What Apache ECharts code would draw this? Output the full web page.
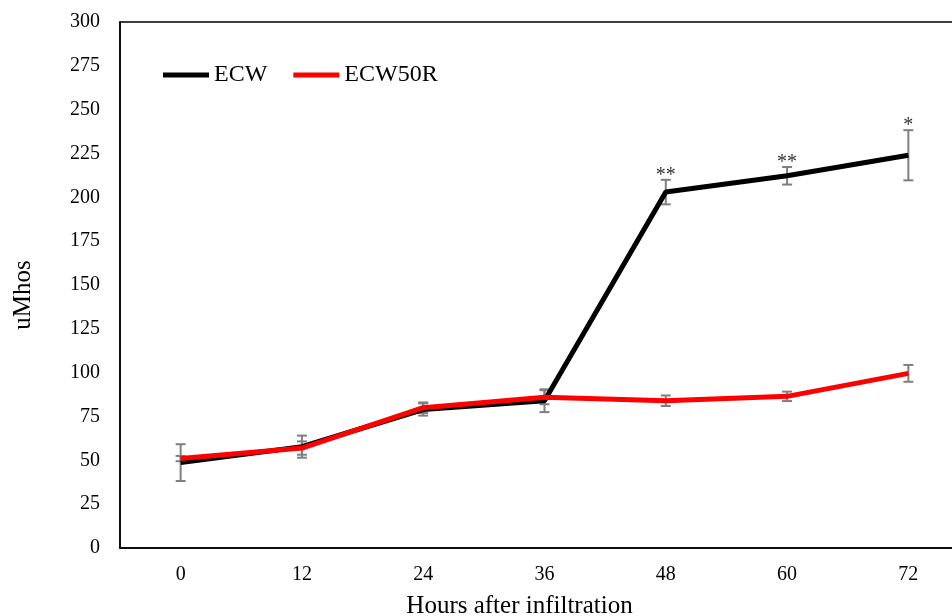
<!DOCTYPE html>
<html>
<head>
<meta charset="utf-8">
<script src="https://cdn.jsdelivr.net/npm/echarts@6/dist/echarts.min.js"></script>
<style>html,body{margin:0;padding:0;background:#fff;}#c{width:952px;height:616px;}</style>
</head>
<body>
<div id="c"></div>
<script>
const hours = ['0','12','24','36','48','60','72'];
const ecw = [48.7, 57.8, 79, 84, 203, 212.3, 224];
const ecwErr = [10.5, 6.3, 3.5, 6.5, 7, 5, 14.3];
const ecw50r = [51, 57, 80, 86, 84, 86.5, 99.6];
const ecw50rErr = [1.5, 3.8, 3, 4, 3, 2.7, 4.8];
const stars = ['', '', '', '', '**', '**', '*'];

const font = 'Liberation Serif, Times New Roman, serif';
const chart = echarts.init(document.getElementById('c'));

function errData(vals, errs) {
  return vals.map((v, i) => [i, v - errs[i], v + errs[i]]);
}
function errRender(params, api) {
  const lo = api.coord([api.value(0), api.value(1)]);
  const hi = api.coord([api.value(0), api.value(2)]);
  const w = 5;
  const st = { stroke: '#7f7f7f', lineWidth: 2 };
  return {
    type: 'group',
    children: [
      { type: 'line', shape: { x1: lo[0], y1: lo[1], x2: hi[0], y2: hi[1] }, style: st },
      { type: 'line', shape: { x1: lo[0] - w, y1: lo[1], x2: lo[0] + w, y2: lo[1] }, style: st },
      { type: 'line', shape: { x1: hi[0] - w, y1: hi[1], x2: hi[0] + w, y2: hi[1] }, style: st }
    ]
  };
}

chart.setOption({
  animation: false,
  backgroundColor: '#fff',
  grid: { left: 120, top: 22, bottom: 68, width: 849, outerBoundsMode: 'none', containLabel: false, show: true, borderColor: '#000', borderWidth: 1.5, backgroundColor: 'transparent' },
  legend: {
    left: 158, top: 58, itemWidth: 46, itemHeight: 14, itemGap: 26,
    icon: 'path://M0,0 L46,0 L46,5 L0,5 Z',
    textStyle: { fontFamily: font, fontSize: 24, color: '#000' },
    data: ['ECW', 'ECW50R']
  },
  xAxis: {
    type: 'category', data: hours, boundaryGap: true,
    axisLine: { lineStyle: { color: '#000', width: 1.5 } },
    axisTick: { show: false },
    axisLabel: { fontFamily: font, fontSize: 20, color: '#000', margin: 17 },
    name: 'Hours after infiltration', nameLocation: 'middle', nameGap: 46,
    nameTextStyle: { fontFamily: font, fontSize: 25, color: '#000', padding: [0, 50, 0, 0] }
  },
  yAxis: {
    type: 'value', min: 0, max: 300, interval: 25,
    axisLine: { show: true, lineStyle: { color: '#000', width: 1.5 } },
    axisTick: { show: false },
    splitLine: { show: false },
    axisLabel: { fontFamily: font, fontSize: 20, color: '#000', margin: 20 },
    name: 'uMhos', nameLocation: 'middle', nameGap: 84,
    nameTextStyle: { fontFamily: font, fontSize: 25, color: '#000', padding: [0, 20, 0, 0] }
  },
  series: [
    { type: 'custom', name: 'errEcw', renderItem: errRender, data: errData(ecw, ecwErr), z: 1, silent: true },
    { type: 'custom', name: 'errR', renderItem: errRender, data: errData(ecw50r, ecw50rErr), z: 1, silent: true },
    { type: 'line', name: 'ECW', data: ecw, symbol: 'none', lineStyle: { color: '#000', width: 5 }, itemStyle: { color: '#000' }, z: 3 },
    { type: 'line', name: 'ECW50R', data: ecw50r, symbol: 'none', lineStyle: { color: '#ff0000', width: 5 }, itemStyle: { color: '#ff0000' }, z: 4 },
    {
      type: 'custom', name: 'stars', silent: true, z: 5,
      data: ecw.map((v, i) => [i, v + ecwErr[i], stars[i]]),
      renderItem: function (params, api) {
        const p = api.coord([api.value(0), api.value(1)]);
        return { type: 'text', style: { text: stars[params.dataIndex], x: p[0], y: p[1] + 6, align: 'center', verticalAlign: 'bottom', fontFamily: font, fontSize: 20, fill: '#333' } };
      }
    }
  ]
});
</script>
</body>
</html>
